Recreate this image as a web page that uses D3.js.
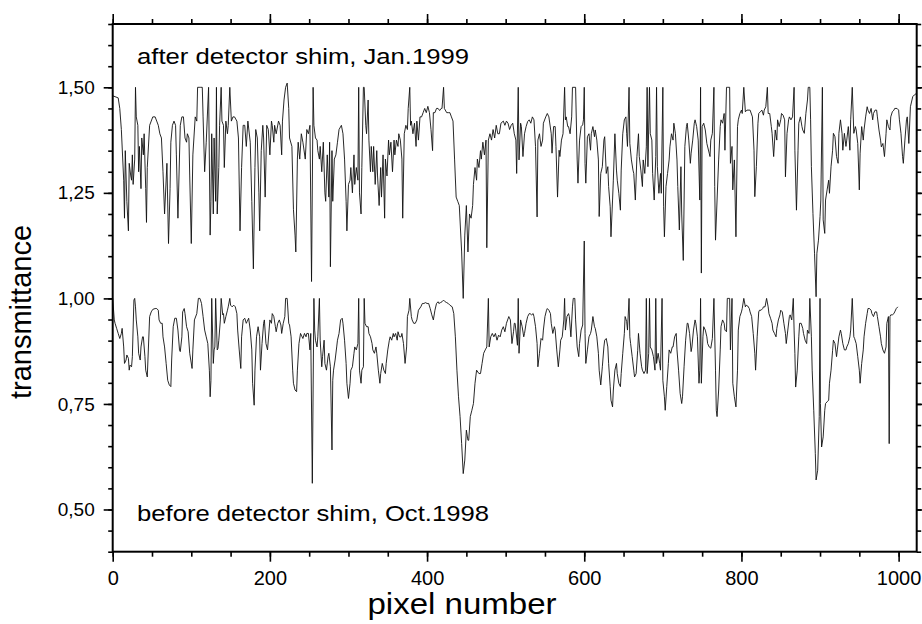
<!DOCTYPE html>
<html>
<head>
<meta charset="utf-8">
<script src="https://cdn.jsdelivr.net/npm/d3@7"></script>
<style>
  body { margin: 0; background: #fff; }
  text { font-family: "Liberation Sans", Arial, Helvetica, sans-serif; fill: #000; }
</style>
</head>
<body>
<svg id="chart"></svg>
<script>
// upper trace: [pixel, transmittance]
var afterShim = [
  [0,1.48],[7,1.475],[9,1.45],[11,1.40],[14,1.28],[15,1.19],[16,1.35],[18,1.23],[20,1.16],[21,1.32],
  [23,1.29],[24,1.28],[25,1.34],[26,1.27],[28,1.33],[29,1.50],[30,1.43],[32,1.41],[33,1.30],[34,1.36],
  [36,1.26],[37,1.38],[39,1.34],[40,1.39],[42,1.26],[43,1.18],[44,1.31],[47,1.41],[49,1.42],[51,1.43],
  [54,1.43],[56,1.42],[58,1.41],[60,1.39],[62,1.38],[64,1.30],[66,1.20],[69,1.32],[71,1.13],[73,1.26],
  [74,1.37],[76,1.41],[78,1.42],[80,1.41],[81,1.34],[83,1.19],[86,1.41],[88,1.43],[90,1.43],[92,1.38],
  [94,1.37],[95,1.39],[97,1.38],[98,1.29],[100,1.13],[102,1.34],[105,1.43],[107,1.42],[108,1.50],[110,1.50],
  [112,1.50],[114,1.50],[115,1.43],[117,1.30],[119,1.37],[122,1.50],[124,1.15],[125,1.23],[126,1.39],[128,1.20],
  [129,1.38],[131,1.23],[132,1.50],[133,1.20],[135,1.31],[136,1.41],[138,1.50],[139,1.42],[141,1.41],[142,1.31],
  [144,1.42],[146,1.39],[147,1.41],[149,1.50],[151,1.42],[153,1.43],[155,1.43],[158,1.42],[160,1.38],[162,1.16],
  [164,1.31],[166,1.41],[168,1.41],[170,1.36],[172,1.42],[175,1.37],[177,1.23],[179,1.07],[181,1.31],[182,1.40],
  [184,1.38],[186,1.25],[187,1.16],[189,1.35],[191,1.41],[192,1.38],[194,1.24],[196,1.41],[198,1.40],[200,1.34],
  [202,1.42],[203,1.41],[205,1.37],[206,1.41],[208,1.39],[211,1.42],[213,1.41],[215,1.34],[216,1.42],[218,1.47],
  [220,1.50],[222,1.51],[224,1.45],[225,1.38],[228,1.36],[230,1.21],[232,1.15],[233,1.11],[235,1.33],[236,1.37],
  [238,1.33],[240,1.39],[242,1.37],[245,1.33],[247,1.40],[249,1.39],[251,1.41],[253,1.04],[255,1.50],[256,1.41],
  [258,1.38],[260,1.375],[261,1.35],[263,1.33],[264,1.36],[266,1.30],[268,1.37],[270,1.25],[271,1.23],[273,1.34],
  [275,1.24],[276,1.37],[277,1.075],[279,1.35],[280,1.23],[282,1.33],[284,1.34],[286,1.37],[288,1.40],[291,1.41],
  [293,1.39],[295,1.33],[297,1.23],[298,1.16],[300,1.27],[302,1.28],[303,1.31],[305,1.25],[307,1.34],[308,1.27],
  [310,1.31],[312,1.28],[313,1.50],[314,1.25],[316,1.20],[317,1.31],[319,1.50],[320,1.50],[322,1.41],[323,1.39],
  [325,1.47],[326,1.375],[328,1.30],[329,1.36],[331,1.30],[332,1.36],[334,1.27],[336,1.35],[337,1.29],[339,1.22],
  [341,1.31],[342,1.24],[344,1.34],[346,1.19],[347,1.33],[349,1.29],[351,1.375],[352,1.34],[354,1.37],[356,1.30],
  [358,1.375],[359,1.34],[361,1.375],[363,1.36],[364,1.39],[366,1.375],[368,1.33],[369,1.19],[371,1.39],[373,1.41],
  [375,1.40],[376,1.45],[378,1.50],[379,1.41],[380,1.42],[382,1.39],[384,1.415],[386,1.36],[387,1.42],[389,1.375],
  [391,1.43],[393,1.43],[395,1.44],[397,1.45],[399,1.44],[401,1.455],[403,1.44],[405,1.40],[407,1.35],[408,1.44],
  [410,1.44],[412,1.45],[414,1.45],[416,1.445],[418,1.45],[419,1.45],[421,1.50],[422,1.45],[425,1.44],[427,1.44],
  [429,1.44],[431,1.43],[433,1.42],[435,1.33],[437,1.24],[439,1.23],[441,1.22],[444,1.11],[446,1.00],[448,1.15],
  [450,1.22],[452,1.11],[454,1.20],[456,1.19],[458,1.22],[459,1.27],[461,1.31],[463,1.28],[464,1.33],[466,1.31],
  [468,1.35],[469,1.33],[471,1.37],[473,1.34],[475,1.375],[476,1.12],[478,1.375],[480,1.39],[482,1.375],[484,1.40],
  [486,1.38],[488,1.41],[490,1.39],[492,1.39],[494,1.415],[497,1.42],[499,1.41],[501,1.42],[503,1.415],[505,1.40],
  [507,1.41],[509,1.415],[511,1.39],[513,1.375],[514,1.296],[516,1.50],[517,1.328],[519,1.415],[520,1.407],[522,1.336],
  [524,1.39],[526,1.407],[528,1.419],[530,1.423],[532,1.415],[534,1.43],[536,1.423],[538,1.36],[540,1.193],[541,1.375],
  [543,1.39],[545,1.36],[547,1.375],[548,1.415],[551,1.43],[553,1.438],[555,1.43],[558,1.39],[559,1.344],[561,1.407],
  [563,1.407],[564,1.36],[566,1.24],[568,1.351],[569,1.336],[571,1.375],[573,1.39],[575,1.50],[576,1.423],[577,1.43],
  [579,1.407],[580,1.407],[582,1.39],[584,1.43],[585,1.50],[587,1.50],[589,1.50],[591,1.328],[592,1.273],[594,1.375],
  [596,1.407],[598,1.411],[599,1.423],[600,1.50],[601,1.32],[602,1.273],[604,1.383],[606,1.39],[608,1.351],[609,1.39],
  [611,1.407],[613,1.383],[614,1.399],[616,1.375],[618,1.328],[619,1.194],[621,1.296],[623,1.312],[625,1.375],[626,1.383],
  [628,1.296],[630,1.312],[631,1.265],[633,1.217],[634,1.146],[636,1.233],[637,1.28],[639,1.39],[641,1.304],[642,1.28],
  [644,1.249],[646,1.209],[647,1.304],[649,1.39],[651,1.423],[653,1.43],[654,1.39],[655,1.36],[657,1.50],[658,1.367],
  [660,1.328],[662,1.304],[663,1.296],[665,1.233],[667,1.336],[669,1.39],[670,1.336],[672,1.304],[674,1.265],[675,1.328],
  [677,1.296],[679,1.359],[680,1.50],[681,1.312],[683,1.50],[684,1.39],[686,1.375],[687,1.296],[689,1.233],[691,1.336],
  [692,1.50],[693,1.312],[695,1.249],[697,1.296],[698,1.249],[700,1.50],[701,1.217],[702,1.146],[704,1.265],[706,1.296],
  [708,1.328],[709,1.359],[711,1.39],[713,1.375],[714,1.415],[716,1.39],[718,1.328],[719,1.265],[721,1.162],[723,1.312],
  [724,1.20],[726,1.09],[728,1.36],[730,1.407],[731,1.415],[733,1.375],[735,1.32],[736,1.344],[738,1.375],[740,1.415],
  [741,1.423],[743,1.407],[745,1.375],[747,1.233],[748,1.50],[749,1.06],[750,1.407],[752,1.415],[754,1.399],[756,1.367],
  [759,1.344],[760,1.336],[761,1.375],[763,1.391],[765,1.50],[766,1.265],[767,1.138],[769,1.233],[771,1.328],[773,1.407],
  [774,1.423],[776,1.415],[778,1.438],[779,1.351],[781,1.50],[782,1.50],[783,1.50],[785,1.50],[786,1.32],[788,1.36],
  [789,1.257],[791,1.328],[793,1.146],[795,1.407],[796,1.423],[798,1.438],[800,1.446],[801,1.438],[803,1.50],[805,1.442],
  [807,1.446],[810,1.446],[811,1.446],[814,1.43],[816,1.351],[817,1.241],[819,1.312],[821,1.415],[822,1.438],[824,1.442],
  [826,1.446],[828,1.434],[829,1.446],[831,1.454],[833,1.50],[834,1.438],[836,1.438],[838,1.407],[839,1.391],[841,1.336],
  [843,1.399],[845,1.375],[846,1.423],[848,1.407],[850,1.423],[851,1.438],[853,1.434],[855,1.423],[856,1.288],[858,1.391],
  [860,1.423],[861,1.43],[863,1.423],[865,1.43],[867,1.50],[868,1.351],[870,1.209],[872,1.351],[873,1.415],[875,1.43],
  [877,1.407],[878,1.399],[880,1.391],[882,1.438],[884,1.47],[885,1.50],[887,1.50],[888,1.423],[889,1.312],[891,1.201],
  [893,1.107],[895,1.004],[896,1.107],[898,1.138],[900,1.194],[901,1.233],[903,1.50],[904,1.186],[906,1.154],[907,1.233],
  [909,1.257],[911,1.28],[912,1.249],[914,1.312],[916,1.351],[917,1.391],[919,1.383],[921,1.336],[923,1.32],[924,1.391],
  [926,1.423],[928,1.391],[929,1.351],[931,1.391],[933,1.36],[934,1.375],[936,1.407],[938,1.351],[939,1.423],[941,1.50],
  [943,1.391],[945,1.407],[946,1.399],[948,1.367],[950,1.257],[951,1.344],[953,1.407],[955,1.375],[956,1.399],[958,1.43],
  [960,1.454],[961,1.446],[963,1.438],[965,1.45],[967,1.423],[968,1.438],[970,1.446],[972,1.446],[973,1.43],[975,1.399],
  [977,1.375],[978,1.359],[980,1.367],[982,1.336],[984,1.391],[985,1.423],[987,1.407],[989,1.399],[990,1.43],[992,1.442],
  [994,1.446],[995,1.45],[998,1.45],[1000,1.446],[1001,1.423],[1003,1.391],[1005,1.336],[1006,1.32],[1008,1.375],[1010,1.423],
  [1011,1.43],[1013,1.367],[1015,1.454],[1017,1.47],[1018,1.478],[1020,1.482],[1023,1.486]
];

// lower trace: [pixel, transmittance]
var beforeShim = [
  [0,1.0],[2,0.949],[3,0.941],[5,0.929],[7,0.917],[9,0.905],[11,0.917],[12,0.929],[14,0.885],[15,0.846],
  [17,0.854],[18,0.866],[20,0.858],[21,0.830],[22,0.842],[24,0.838],[25,0.862],[27,0.996],[28,1.0],[29,0.980],
  [30,0.949],[32,0.909],[33,0.870],[35,0.854],[36,0.885],[38,0.909],[39,0.909],[41,0.862],[42,0.830],[44,0.814],
  [47,0.957],[49,0.968],[51,0.974],[54,0.976],[56,0.976],[58,0.972],[59,0.949],[61,0.941],[63,0.941],[64,0.909],
  [66,0.885],[68,0.846],[70,0.806],[72,0.795],[74,0.791],[75,0.854],[77,0.933],[79,0.953],[81,0.953],[83,0.925],
  [85,0.878],[86,0.874],[88,0.909],[89,0.968],[91,0.976],[92,0.964],[94,0.933],[96,0.921],[98,0.870],[101,0.834],
  [102,0.878],[104,0.949],[107,0.964],[109,1.0],[111,1.0],[113,0.988],[115,0.957],[117,0.925],[119,0.909],[121,0.893],
  [123,0.830],[124,0.767],[125,0.806],[126,1.0],[128,0.846],[129,0.878],[130,0.885],[131,1.0],[133,0.878],[134,0.882],
  [135,0.901],[137,0.949],[138,1.0],[140,0.961],[141,0.964],[142,0.941],[144,0.957],[146,0.972],[147,0.980],[149,1.0],
  [150,0.984],[152,0.980],[154,0.984],[156,0.980],[158,0.964],[159,0.925],[161,0.878],[163,0.834],[164,0.909],[166,0.949],
  [168,0.953],[170,0.941],[171,0.945],[173,0.953],[175,0.925],[177,0.878],[178,0.799],[180,0.747],[181,0.830],[183,0.909],
  [185,0.933],[187,0.909],[188,0.830],[190,0.893],[192,0.941],[193,0.949],[195,0.893],[197,0.878],[199,0.925],[200,0.949],
  [202,0.941],[203,0.964],[205,0.957],[207,0.933],[208,0.921],[210,0.941],[212,0.949],[214,0.937],[215,0.917],[217,0.941],
  [219,0.957],[220,1.0],[222,1.0],[224,0.941],[225,0.937],[227,0.909],[229,0.830],[230,0.799],[232,0.783],[234,0.779],
  [235,0.830],[237,0.893],[239,0.917],[240,0.913],[242,0.905],[244,0.917],[246,0.909],[247,0.917],[249,0.917],[251,0.878],
  [252,0.917],[254,0.562],[256,1.0],[257,0.925],[258,0.901],[260,0.885],[261,0.909],[263,1.0],[264,0.901],[266,0.838],
  [267,0.862],[269,0.901],[270,0.846],[272,0.830],[274,0.862],[275,0.870],[277,0.838],[279,0.641],[280,0.806],[281,0.830],
  [283,0.854],[285,0.885],[286,0.901],[288,0.917],[290,0.949],[292,0.953],[293,0.941],[295,0.901],[297,0.846],[298,0.799],
  [300,0.763],[302,0.799],[303,0.830],[305,0.838],[307,0.870],[308,0.885],[310,0.878],[312,0.893],[313,1.0],[314,0.830],
  [316,0.799],[317,0.830],[319,0.838],[320,1.0],[321,0.941],[323,0.933],[325,0.933],[326,0.917],[328,0.909],[330,0.893],
  [331,0.878],[333,0.870],[335,0.885],[336,0.870],[338,0.830],[340,0.799],[341,0.822],[343,0.846],[345,0.830],[347,0.822],
  [348,0.846],[350,0.878],[352,0.901],[353,0.909],[355,0.901],[357,0.917],[358,0.909],[360,0.917],[362,0.901],[363,0.921],
  [365,0.909],[367,0.909],[368,0.917],[370,0.893],[372,0.846],[374,0.885],[375,0.957],[377,0.972],[378,1.0],[380,0.957],
  [381,0.949],[383,0.941],[385,0.941],[387,0.949],[389,0.972],[392,0.980],[394,0.988],[396,0.988],[398,0.990],[400,0.988],
  [402,0.988],[404,0.976],[406,0.961],[408,0.949],[410,0.972],[412,0.988],[414,0.992],[415,0.988],[417,0.990],[419,0.992],
  [421,0.996],[423,0.992],[425,0.990],[427,0.988],[429,0.984],[432,0.980],[434,0.964],[436,0.909],[438,0.830],[440,0.767],
  [442,0.720],[444,0.656],[446,0.585],[448,0.617],[450,0.688],[452,0.664],[453,0.664],[455,0.720],[457,0.735],[459,0.751],
  [461,0.799],[463,0.830],[466,0.822],[468,0.822],[470,0.846],[472,0.870],[474,0.878],[476,0.885],[478,1.0],[479,0.885],
  [481,0.909],[483,0.917],[485,0.909],[487,0.917],[489,0.901],[491,0.913],[493,0.909],[495,0.925],[497,0.933],[499,0.921],
  [501,0.941],[504,0.957],[506,0.949],[508,0.893],[510,0.921],[511,0.941],[512,0.941],[513,0.925],[515,0.889],[516,1.0],
  [517,0.870],[518,0.909],[519,0.949],[521,0.933],[523,0.909],[524,0.917],[526,0.941],[528,0.957],[530,0.964],[531,0.964],
  [533,0.961],[535,0.964],[536,0.957],[538,0.933],[540,0.893],[541,0.838],[543,0.870],[545,0.905],[547,0.901],[548,0.925],
  [550,0.957],[552,0.972],[553,0.976],[555,0.972],[557,0.964],[558,0.941],[560,0.917],[562,0.933],[563,0.925],[565,0.878],
  [567,0.838],[569,0.878],[570,0.901],[572,0.909],[574,0.949],[575,1.0],[576,0.925],[578,0.957],[580,0.964],[581,0.957],
  [583,0.909],[585,0.980],[586,1.0],[588,1.0],[589,0.949],[591,0.885],[593,0.862],[594,0.893],[596,0.925],[598,0.937],
  [600,1.136],[601,0.917],[602,0.846],[604,0.878],[606,0.909],[608,0.917],[609,0.925],[611,0.957],[613,0.933],[614,0.929],
  [616,0.909],[618,0.870],[619,0.830],[621,0.795],[623,0.838],[625,0.885],[626,0.901],[628,0.905],[630,0.885],[631,0.846],
  [633,0.791],[634,0.759],[636,0.743],[637,0.783],[639,0.830],[641,0.846],[642,0.822],[644,0.799],[646,0.791],[647,0.822],
  [649,0.870],[651,0.917],[652,0.957],[654,0.945],[655,0.925],[657,1.0],[658,0.909],[659,0.893],[661,0.862],[663,0.830],
  [664,0.814],[666,0.822],[668,0.877],[669,0.917],[671,0.870],[673,0.838],[674,0.830],[676,0.822],[678,0.830],[679,1.0],
  [680,0.822],[682,0.870],[683,1.0],[684,0.885],[686,0.878],[688,0.862],[690,0.830],[691,1.0],[692,0.846],[694,0.870],
  [696,0.846],[697,0.830],[699,1.0],[700,0.806],[702,0.767],[703,0.735],[705,0.791],[707,0.846],[708,0.878],[710,0.870],
  [712,0.885],[713,0.885],[715,0.909],[717,0.917],[718,0.878],[720,0.830],[722,0.775],[724,0.751],[725,0.767],[727,0.838],
  [729,0.901],[731,0.941],[732,0.941],[734,0.917],[736,0.874],[737,0.885],[739,0.925],[741,0.949],[742,0.941],[744,0.909],
  [746,0.799],[747,0.830],[748,1.0],[749,0.799],[751,0.909],[752,0.933],[754,0.925],[756,0.909],[757,0.893],[759,0.885],
  [761,0.882],[763,0.905],[765,1.0],[767,0.830],[768,0.735],[769,0.720],[771,0.783],[773,0.878],[774,0.933],[776,0.949],
  [778,0.941],[779,0.925],[781,0.921],[782,1.0],[783,1.0],[785,1.0],[786,0.878],[788,1.0],[789,0.799],[791,0.767],
  [793,0.743],[795,0.830],[796,0.925],[798,0.957],[800,0.968],[801,0.976],[803,1.0],[805,0.980],[806,0.984],[808,0.982],
  [810,0.976],[811,0.968],[813,0.957],[815,0.917],[817,0.870],[818,0.830],[820,0.909],[822,0.968],[823,0.972],[825,0.972],
  [827,0.976],[828,0.980],[830,0.980],[832,1.0],[834,0.980],[835,0.964],[837,0.953],[839,0.941],[840,0.925],[842,0.917],
  [844,0.909],[845,0.929],[847,0.949],[849,0.961],[850,0.972],[852,0.968],[854,0.941],[856,0.917],[857,0.893],[859,0.925],
  [861,0.957],[862,0.961],[864,0.949],[866,1.0],[867,0.925],[868,0.870],[869,0.790],[871,0.830],[873,0.909],[874,0.941],
  [876,0.941],[878,0.929],[879,0.917],[881,0.901],[883,0.893],[884,0.925],[886,0.917],[887,1.0],[889,0.909],[890,0.830],
  [892,0.735],[894,0.632],[895,0.570],[897,0.593],[899,0.720],[900,1.0],[900.5,0.751],[902,0.648],[904,0.672],[906,0.735],
  [907,0.751],[909,0.755],[911,0.759],[912,0.799],[914,0.830],[916,0.877],[917,0.901],[919,0.893],[921,0.862],[922,0.878],
  [924,0.909],[926,0.925],[927,0.917],[929,0.893],[931,0.878],[933,0.878],[934,0.885],[936,0.893],[938,0.909],[939,0.925],
  [941,1.0],[943,0.909],[944,0.905],[946,0.893],[948,0.862],[950,0.830],[951,0.799],[953,0.846],[955,0.878],[956,0.909],
  [958,0.941],[960,0.964],[961,0.976],[963,0.976],[965,0.972],[966,0.964],[968,0.957],[970,0.968],[972,0.968],[973,0.957],
  [975,0.933],[977,0.909],[978,0.893],[980,0.878],[982,0.870],[984,0.885],[985,0.941],[987,0.957],[988,0.656],[989,0.957],
  [990,0.961],[992,0.961],[994,0.964],[995,0.968],[997,0.976],[999,0.980]
];

var xTicks = [0,200,400,600,800,1000];
var yTicks = [0.50,0.75,1.00,1.25,1.50];
var notes = ["after detector shim, Jan.1999","before detector shim, Oct.1998"];

(function(){
  var width = 922;
  var height = 624;
  var plotLeft = 112.7, plotRight = 916.7, plotTop = 24, plotBottom = 551.7;
  var stretch = 1.14;   // the original lettering is a bit wide

  var svg = d3.select("svg#chart")
              .attr("width",width)
              .attr("height",height);

  var x = d3.scaleLinear().domain([0,1023]).range([plotLeft,plotRight]);
  var y = d3.scaleLinear().domain([0.40,1.65]).range([plotBottom,plotTop]);

  var xMinor = d3.range(0,1024,50);
  var yMinor = d3.range(8,34).map(function(i){ return i/20; });
  var comma = function(d){ return d3.format(".2f")(d).replace(".",","); };

  svg.append("clipPath").attr("id","plot")
     .append("rect")
     .attr("x",plotLeft).attr("y",plotTop)
     .attr("width",plotRight-plotLeft).attr("height",plotBottom-plotTop);

  var line = d3.line()
               .x(function(d){ return x(d[0]); })
               .y(function(d){ return y(d[1]); });

  svg.selectAll("path.trace")
     .data([afterShim,beforeShim])
     .enter()
     .append("path")
     .attr("class","trace")
     .attr("d",line)
     .attr("fill","none")
     .attr("stroke","#111")
     .attr("stroke-width",0.9)
     .attr("stroke-linejoin","round")
     .attr("clip-path","url(#plot)");

  function ticks(size){
    return function(g){
      g.select(".domain").remove();
      g.selectAll(".tick line").attr("stroke","#000").attr("stroke-width",1.6);
      g.selectAll(".tick text").attr("font-size",size).attr("fill","#000");
    };
  }

  // minor ticks on all four sides
  svg.append("g").attr("transform","translate(0,"+plotBottom+")")
     .call(d3.axisBottom(x).tickValues(xMinor).tickSize(5).tickFormat(""))
     .call(ticks(19));
  svg.append("g").attr("transform","translate(0,"+plotTop+")")
     .call(d3.axisTop(x).tickValues(xMinor).tickSize(5).tickFormat(""))
     .call(ticks(19));
  svg.append("g").attr("transform","translate("+plotLeft+",0)")
     .call(d3.axisLeft(y).tickValues(yMinor).tickSize(4.5).tickFormat(""))
     .call(ticks(19));
  svg.append("g").attr("transform","translate("+plotRight+",0)")
     .call(d3.axisRight(y).tickValues(yMinor).tickSize(4.5).tickFormat(""))
     .call(ticks(19));

  // major ticks
  svg.append("g").attr("transform","translate(0,"+plotBottom+")")
     .call(d3.axisBottom(x).tickValues(xTicks).tickSize(10).tickPadding(9).tickFormat(d3.format("d")))
     .call(ticks(20));
  svg.append("g").attr("transform","translate(0,"+plotTop+")")
     .call(d3.axisTop(x).tickValues(xTicks).tickSize(10).tickFormat(""))
     .call(ticks(19));
  svg.append("g").attr("transform","translate("+plotLeft+",0)")
     .call(d3.axisLeft(y).tickValues(yTicks).tickSize(9).tickPadding(9).tickFormat(comma))
     .call(ticks(19));
  svg.append("g").attr("transform","translate("+plotRight+",0)")
     .call(d3.axisRight(y).tickValues(yTicks).tickSize(9).tickFormat(""))
     .call(ticks(19));

  svg.append("rect")
     .attr("x",plotLeft).attr("y",plotTop)
     .attr("width",plotRight-plotLeft).attr("height",plotBottom-plotTop)
     .attr("fill","none")
     .attr("stroke","#000")
     .attr("stroke-width",2);

  svg.selectAll("text.note")
     .data(notes)
     .enter()
     .append("text")
     .attr("class","note")
     .text(function(d){ return d; })
     .attr("transform",function(d,i){
       return "translate(137,"+(i==0 ? 64 : 521)+") scale("+stretch+",1)";
     })
     .attr("font-size",22.5);

  svg.append("text")
     .text("pixel number")
     .attr("transform","translate(462,614) scale("+stretch+",1)")
     .attr("text-anchor","middle")
     .attr("font-size",29);

  svg.append("text")
     .text("transmittance")
     .attr("transform","translate(31,312) rotate(-90)")
     .attr("text-anchor","middle")
     .attr("font-size",29);
})();
</script>
</body>
</html>
